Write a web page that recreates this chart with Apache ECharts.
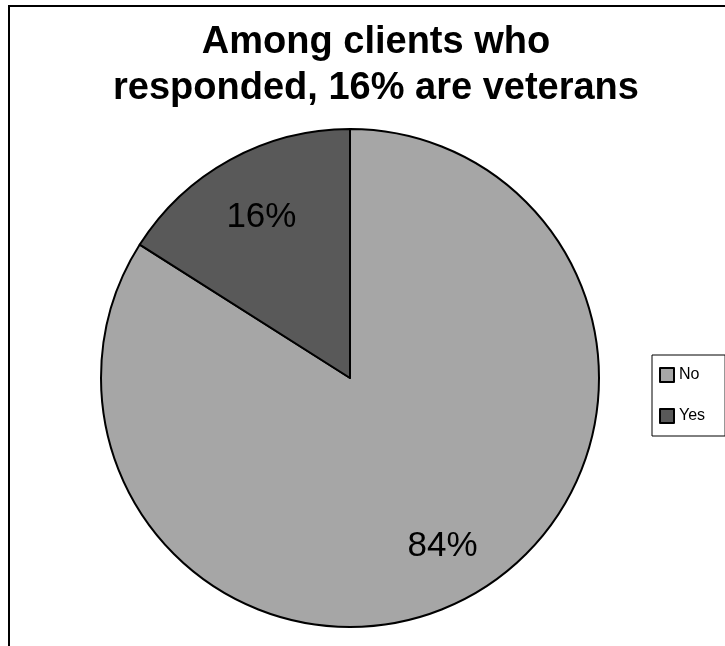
<!DOCTYPE html>
<html>
<head>
<meta charset="utf-8">
<script src="https://cdn.jsdelivr.net/npm/echarts@6/dist/echarts.min.js"></script>
<style>
  html, body { margin: 0; padding: 0; background: #ffffff; }
  #chart { width: 725px; height: 646px; }
</style>
</head>
<body>
<div id="chart"></div>
<script>
// Veteran status of clients who responded
const categories = ['No', 'Yes'];
const shares = [84, 16];
const sliceColors = ['#a6a6a6', '#595959'];
const titleLines = ['Among clients who', 'responded, 16% are veterans'];

const pieData = categories.map((name, i) => ({
  name: name,
  value: shares[i],
  itemStyle: { color: sliceColors[i] }
}));

const chart = echarts.init(document.getElementById('chart'), null, { renderer: 'canvas' });

chart.setOption({
  backgroundColor: '#ffffff',
  animation: false,
  title: {
    text: titleLines.join('\n'),
    left: 376,
    top: 20,
    textAlign: 'center',
    padding: 0,
    textStyle: {
      fontFamily: '"Liberation Sans", Arial, sans-serif',
      fontWeight: 'bold',
      fontSize: 38,
      lineHeight: 46,
      color: '#000000'
    }
  },
  legend: {
    orient: 'vertical',
    left: 652,
    top: 355,
    data: categories,
    padding: [12, 20, 12, 7],
    itemGap: 25,
    itemWidth: 14,
    itemHeight: 14,
    icon: 'rect',
    borderColor: '#000000',
    borderWidth: 1,
    itemStyle: { borderColor: '#000000', borderWidth: 2 },
    textStyle: {
      fontFamily: '"Liberation Sans", Arial, sans-serif',
      fontSize: 16,
      color: '#000000'
    }
  },
  graphic: [{
    type: 'rect',
    shape: { x: 9, y: 6, width: 800, height: 700 },
    style: { fill: 'none', stroke: '#000000', lineWidth: 2 },
    silent: true,
    z: -1
  }],
  series: [
    {
      type: 'pie',
      center: [350, 378],
      radius: [0, 249],
      startAngle: 90,
      clockwise: true,
      label: { show: false },
      labelLine: { show: false },
      itemStyle: { borderColor: '#000000', borderWidth: 2 },
      emphasis: { disabled: true },
      data: pieData
    },
    {
      // transparent ring that carries the percentage labels
      type: 'pie',
      center: [350, 378],
      radius: [121, 249],
      startAngle: 90,
      clockwise: true,
      silent: true,
      itemStyle: { color: 'rgba(0,0,0,0)', borderWidth: 0 },
      label: {
        show: true,
        position: 'inside',
        formatter: '{c}%',
        offset: [2, 4],
        fontFamily: '"Liberation Sans", Arial, sans-serif',
        fontSize: 35,
        color: '#000000'
      },
      labelLine: { show: false },
      emphasis: { disabled: true },
      data: categories.map((name, i) => ({ name: name, value: shares[i] }))
    }
  ]
});
</script>
</body>
</html>
